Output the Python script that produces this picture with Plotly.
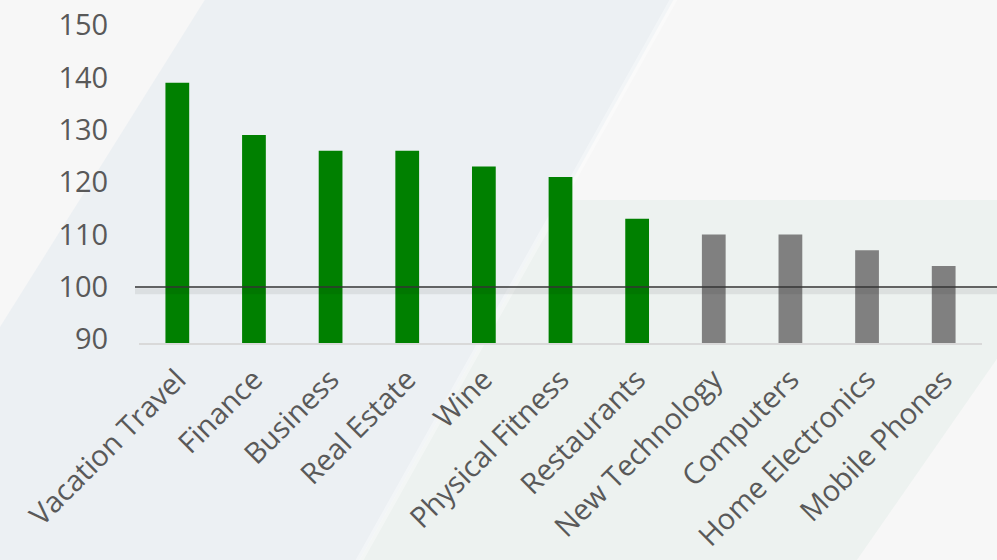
import plotly.graph_objects as go

categories = ["Vacation Travel", "Finance", "Business", "Real Estate", "Wine",
              "Physical Fitness", "Restaurants", "New Technology", "Computers",
              "Home Electronics", "Mobile Phones"]
values = [139, 129, 126, 126, 123, 121, 113, 110, 110, 107, 104]
highlight = [True, True, True, True, True, True, True, False, False, False, False]
reference_value = 100
y_ticks = [90, 100, 110, 120, 130, 140, 150]

GREEN = "#008000"
GRAY = "#808080"
colors = [GREEN if h else GRAY for h in highlight]

W, H = 997, 560
L, R, T, B = 139, 15, 25, 217
pw, ph = W - L - R, H - T - B


def px(x):
    return (x - L) / pw


def py(y):
    return (H - B - y) / ph


def poly(points):
    s = "M " + " L ".join(f"{px(x):.4f},{py(y):.4f}" for x, y in points) + " Z"
    return s


shapes = [
    dict(type="path", xref="paper", yref="paper", layer="below",
         path=poly([(211, -10), (679, -10), (354, 570), (-10, 570), (-10, 343)]),
         fillcolor="#ecf0f3", line=dict(width=0)),
    dict(type="path", xref="paper", yref="paper", layer="below",
         path=poly([(561, 200), (1010, 200), (1010, 340), (850, 570), (354, 570)]),
         fillcolor="#edf2f0", line=dict(width=0)),
    dict(type="line", xref="paper", yref="paper", layer="below",
         x0=px(679), y0=py(-10), x1=px(354), y1=py(570),
         line=dict(color="rgba(255,255,255,0.35)", width=7)),
    # shadow of reference line
    dict(type="line", xref="paper", yref="y", layer="above",
         x0=px(135), x1=px(997), y0=reference_value - 0.8, y1=reference_value - 0.8,
         line=dict(color="rgba(0,0,0,0.07)", width=6)),
    dict(type="line", xref="paper", yref="y", layer="above",
         x0=px(135), x1=px(997), y0=reference_value, y1=reference_value,
         line=dict(color="#333333", width=1.6)),
]

fig = go.Figure(go.Bar(
    x=categories, y=values, marker=dict(color=colors, line=dict(width=0)),
    width=0.31, hoverinfo="x+y",
))

fig.update_layout(
    width=W, height=H,
    margin=dict(l=L, r=R, t=T, b=B, pad=0, autoexpand=False),
    paper_bgcolor="#f7f7f7",
    plot_bgcolor="rgba(0,0,0,0)",
    font=dict(family="Open Sans, DejaVu Sans, sans-serif", color="#595959", size=30),
    showlegend=False,
    shapes=shapes,
    xaxis=dict(
        tickangle=-45, showgrid=False, zeroline=False, automargin=False,
        showline=True, linecolor="#d9d9d9", linewidth=2,
        ticks="outside", ticklen=6, tickcolor="rgba(0,0,0,0)",
        tickfont=dict(size=29, color="#595959"),
        fixedrange=True,
    ),
    yaxis=dict(
        range=[89.3, 150], tickvals=y_ticks, showgrid=False, zeroline=False,
        automargin=False,
        showline=False, ticks="outside", ticklen=24, tickcolor="rgba(0,0,0,0)",
        tickfont=dict(size=29, color="#595959"),
        fixedrange=True,
    ),
)

fig.write_html("out.html")
